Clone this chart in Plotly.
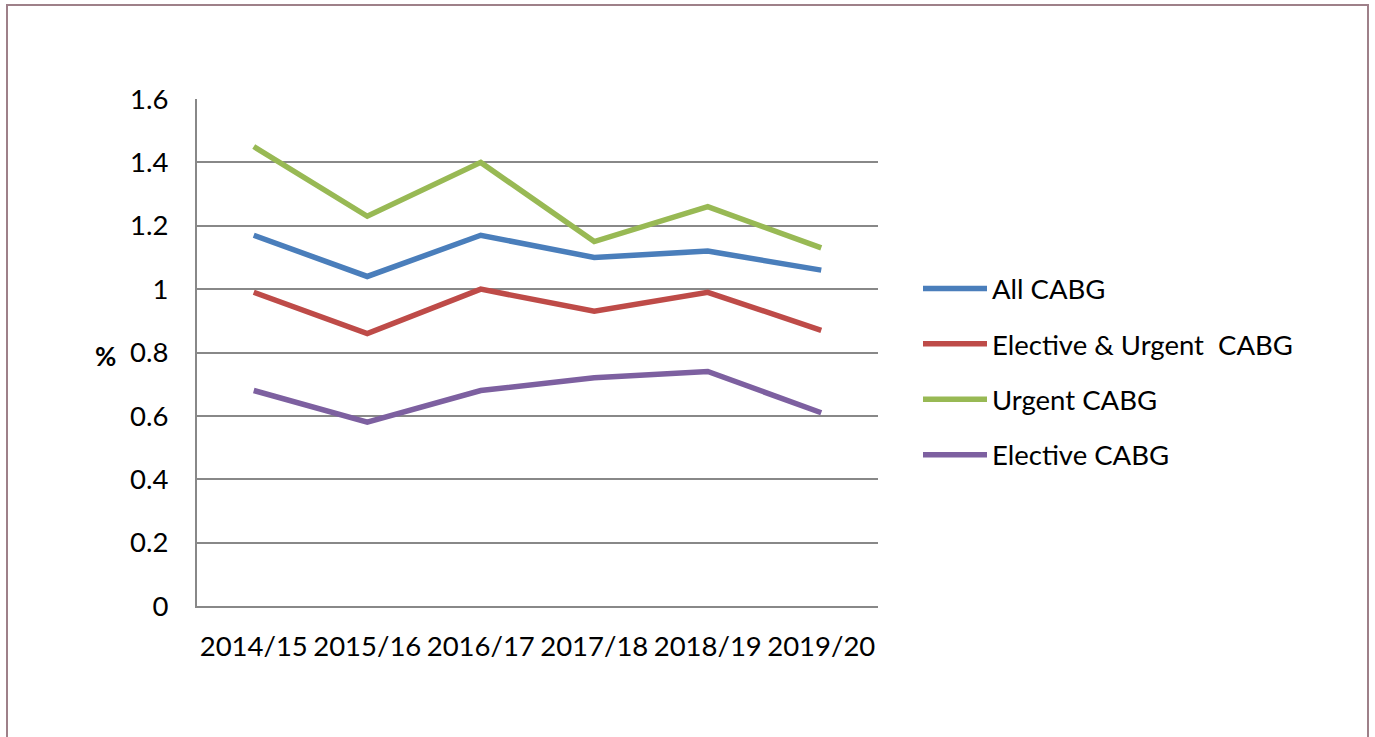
import plotly.graph_objects as go

categories = ["2014/15", "2015/16", "2016/17", "2017/18", "2018/19", "2019/20"]
all_cabg = [1.17, 1.04, 1.17, 1.10, 1.12, 1.06]
elective_urgent = [0.99, 0.86, 1.00, 0.93, 0.99, 0.87]
urgent = [1.45, 1.23, 1.40, 1.15, 1.26, 1.13]
elective = [0.68, 0.58, 0.68, 0.72, 0.74, 0.61]
y_ticks = [0, 0.2, 0.4, 0.6, 0.8, 1, 1.2, 1.4, 1.6]

series = [
    ("All CABG", all_cabg, "#4A7EBB"),
    ("Elective & Urgent  CABG", elective_urgent, "#BE4B48"),
    ("Urgent CABG", urgent, "#98B954"),
    ("Elective CABG", elective, "#7D60A0"),
]

W, H = 1375, 737
L, R, T, B = 197, 878, 99, 606

def px(x):
    return (x - L) / (R - L)

def py(y):
    return (B - y) / (B - T)

fig = go.Figure()
for i, (name, vals, col) in enumerate(series):
    fig.add_trace(go.Scatter(x=categories, y=vals, name=name, mode="lines",
                             line=dict(color=col, width=5.5), legendgroup=str(i)))

fam = "Lato, Open Sans, sans-serif"
font = dict(family=fam, size=27.5, color="#000")
fig.update_layout(
    width=W, height=H,
    margin=dict(l=L, r=W - R, t=T, b=H - B),
    paper_bgcolor="white", plot_bgcolor="white",
    font=font,
    showlegend=True,
    legend=dict(x=px(918), y=py(264), xanchor="left", yanchor="top",
                font=dict(family=fam, size=27.5, color="#000"),
                tracegroupgap=16.7, itemwidth=64, bgcolor="rgba(0,0,0,0)"),
    xaxis=dict(type="category", range=[-0.5, 5.5], showgrid=False, showline=True,
               linecolor="#888", linewidth=2, ticks="", ticklabelstandoff=15,
               tickfont=font, zeroline=False),
    yaxis=dict(range=[0, 1.6], tickvals=y_ticks, ticktext=[f"{v:g}" for v in y_ticks],
               showgrid=True, gridcolor="#888", gridwidth=2, showline=True,
               linecolor="#888", linewidth=2, ticks="", ticklabelstandoff=21,
               tickfont=font, zeroline=False),
    annotations=[dict(text="<b>%</b>", x=px(105), y=py(356), xanchor="center", yanchor="middle",
                      xref="paper", yref="paper", showarrow=False,
                      font=dict(family=fam, size=26, color="#000"))],
    shapes=[dict(type="rect", xref="paper", yref="paper",
                 x0=px(7), x1=px(1368), y0=py(760), y1=py(5),
                 line=dict(color="#9E8089", width=2), fillcolor="rgba(0,0,0,0)", layer="below")],
)
fig.write_html("out.html", config={"displayModeBar": False},
               post_script="document.body.style.margin='0px';document.body.style.overflow='hidden';")
